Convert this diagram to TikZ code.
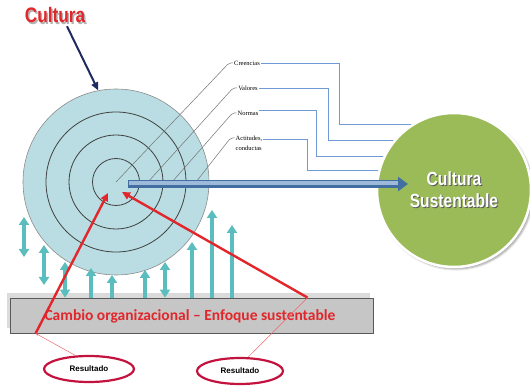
\documentclass[tikz,border=0pt]{standalone}
\usepackage{fontspec}
\setmainfont{Liberation Sans}
\newfontfamily\angosta[FakeStretch=0.82]{Liberation Sans}
\newfontfamily\calibri{Carlito}
\newfontfamily\etiqfont{Liberation Serif}
\usepackage{tikz}
\usetikzlibrary{shapes.geometric, arrows.meta, positioning, calc, backgrounds, shadows.blur}

\definecolor{celeste}{HTML}{B9DDE2}
\definecolor{verde}{HTML}{9BBB59}
\definecolor{azul}{HTML}{4F81BD}
\definecolor{azulclaro}{HTML}{6E9BD6}
\definecolor{turquesa}{HTML}{5BBDBE}
\definecolor{rojo}{HTML}{E2262B}
\definecolor{carmesi}{HTML}{C4123F}
\definecolor{marino}{HTML}{1F2A5E}

\tikzstyle{anillo} = [draw=black!75, line width=0.8pt]
\tikzstyle{etiqueta} = [font=\etiqfont\fontsize{6.5}{10}\selectfont, inner sep=1pt, align=left]
\tikzstyle{guia} = [draw=black!55, line width=0.5pt, rounded corners=2pt]
\tikzstyle{enlace} = [draw=azulclaro, line width=0.8pt]
\tikzstyle{flecharoja} = [-{Triangle[length=8pt, width=7.5pt]}, draw=rojo, line width=2.4pt]
\tikzstyle{hilo} = [draw=rojo!70, line width=0.5pt]
\tikzstyle{resultado} = [
    ellipse, draw=carmesi, line width=2.2pt, fill=white, minimum width=90pt,
    minimum height=26pt, inner sep=0pt, font=\bfseries\fontsize{8}{9}\selectfont
]
\tikzstyle{sube} = [-{Triangle[length=8pt, width=10pt]}, draw=turquesa, line width=3.2pt]
\tikzstyle{doble} = [{Triangle[length=8pt, width=10pt]}-{Triangle[length=8pt, width=10pt]},
    draw=turquesa, line width=3.2pt]

\begin{document}
\begin{tikzpicture}[x=1pt, y=-1pt]
    \useasboundingbox (0,0) rectangle (530,387);

    % Circulo de la cultura
    \coordinate (nuc) at (116,182);
    \node[circle, minimum size=186pt, inner sep=0pt, fill=celeste, draw=black!45,
          line width=0.6pt] (cul) at (nuc) {};
    \foreach \r in {23.5, 47, 70}
        \draw[anillo] (nuc) circle (\r);

    \node[etiqueta] (cre) at (247,63) {Creencias};
    \node[etiqueta] (val) at (248,88) {Valores};
    \node[etiqueta] (nor) at (248,113) {Normas};
    \node[etiqueta] (act) at (249,143) {Actitudes,\\conductas};

    \draw[guia] (cre.west) -- ++(-4,0) -- (nuc);
    \draw[guia] (val.west) -- ++(-4,0) -- ([xshift=32pt]nuc);
    \draw[guia] (nor.west) -- ++(-4,0) -- ([xshift=56pt]nuc);
    \draw[guia] ([yshift=5pt]act.west) -- ++(-4,0) -- ([xshift=80pt]nuc);

    % Cultura sustentable
    \node[circle, minimum size=154pt, fill=verde, draw=white, line width=2.5pt,
          blur shadow={shadow xshift=2pt, shadow yshift=-2pt}] (sust) at (454,190) {};
    \node[font=\angosta\bfseries\fontsize{19}{22}\selectfont, text=black!65, align=center]
        (sustsombra) at ([xshift=1pt, yshift=-1.2pt]sust) {Cultura\\Sustentable};
    \node[font=\angosta\bfseries\fontsize{19}{22}\selectfont, text=white, align=center]
        (sustrotulo) at (sust) {Cultura\\Sustentable};

    \coordinate (q1) at (339,124);
    \coordinate (q2) at (328,140);
    \coordinate (q3) at (316,156);
    \coordinate (q4) at (307,170);
    \begin{pgfonlayer}{background}
        \draw[enlace] (cre.east) -| (q1) -- (q1 -| sust);
        \draw[enlace] (val.east) -| (q2) -- (q2 -| sust);
        \draw[enlace] ([yshift=3pt]nor.east) -| (q3) -- (q3 -| sust);
        \draw[enlace] ([yshift=4pt]act.east) -| (q4) -- (q4 -| sust);
    \end{pgfonlayer}

    \coordinate (punta) at (408,184);
    \draw[line width=7.5pt, draw=azul!85!black, -{Triangle[length=10pt, width=14pt]}]
        ([xshift=12pt, yshift=-2pt]nuc) -- (punta);
    \draw[line width=3.5pt, draw=azul!55!white, shorten >=10pt]
        ([xshift=12.7pt, yshift=-1.2pt]nuc) -- ([yshift=0.8pt]punta);

    % Barra de cambio organizacional
    \node[rectangle, minimum width=363pt, minimum height=35pt, inner sep=0pt,
          fill=gray!28] (fondo) at (188,310.5) {};
    \node[rectangle, minimum width=363pt, minimum height=35pt, inner sep=0pt,
          fill=gray!45, draw=black!65, line width=0.8pt] (barra) at (191.5,315.5) {};
    \node[font=\calibri\bfseries\fontsize{15.5}{18}\selectfont, text=rojo] (cambio) at (190,316)
        {Cambio organizacional – Enfoque sustentable};

    \foreach \x/\y in {91/268, 112/275, 145/270, 192/242, 212/210, 232/225}
        \draw[sube] (barra.north -| \x,0) -- (\x,\y);
    \foreach \x/\y in {65/262, 165/262}
        \draw[doble] (barra.north -| \x,0) -- (\x,\y);
    \foreach \x/\ya/\yb in {24/217/257, 44/245/285}
        \draw[doble] (\x,\ya) -- (\x,\yb);

    % Resultados
    \coordinate (p1) at ([xshift=26pt]barra.south west);
    \coordinate (p2) at ([xshift=298pt]barra.north west);
    \draw[flecharoja] (p1) -- ([xshift=-8pt, yshift=-11pt]nuc);
    \draw[flecharoja] (p2) -- ([xshift=6pt, yshift=-10pt]nuc);

    \node[resultado] (res1) at (89,369) {Resultado};
    \node[resultado, minimum width=86pt] (res2) at (240,371) {Resultado};
    \draw[hilo, -{Stealth[length=3pt]}] (res1.135) -- (p1);
    \draw[hilo] (res2.60) -- (p2);

    % Titulo
    \node[font=\angosta\bfseries\fontsize{21}{24}\selectfont, text=black!30]
        (titsombra) at (56.5,16.5) {Cultura};
    \node[font=\angosta\bfseries\fontsize{21}{24}\selectfont, text=rojo]
        (tit) at (55,15) {Cultura};
    \draw[-{Triangle[length=8pt, width=7pt]}, draw=marino, line width=2pt]
        ([xshift=12pt]tit.south) -- (cul.101);
\end{tikzpicture}
\end{document}
